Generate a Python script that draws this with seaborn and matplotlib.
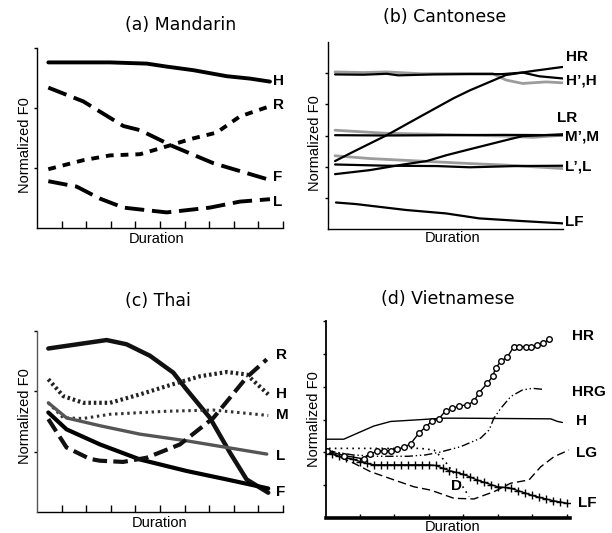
import matplotlib
matplotlib.use("Agg")
import matplotlib.pyplot as plt
import seaborn as sns

# ---- (a) Mandarin ----
man_h_x = [0.46, 2.97, 4.46, 5.27, 6.36, 7.71, 8.66, 9.47]
man_h_y = [2.76, 2.76, 2.74, 2.69, 2.63, 2.53, 2.49, 2.44]
man_r_x = [0.46, 1.88, 2.97, 4.19, 5.27, 6.22, 7.30, 8.25, 9.47]
man_r_y = [0.98, 1.13, 1.21, 1.23, 1.36, 1.48, 1.59, 1.86, 2.03]
man_f_x = [0.46, 1.88, 3.51, 4.19, 5.54, 7.17, 9.47]
man_f_y = [2.34, 2.11, 1.70, 1.63, 1.36, 1.08, 0.80]
man_l_x = [0.46, 1.61, 2.56, 3.51, 5.27, 7.03, 8.25, 9.47]
man_l_y = [0.78, 0.69, 0.49, 0.34, 0.26, 0.34, 0.44, 0.48]
man_labels = ["H", "R", "F", "L"]
man_label_y = [2.45, 2.05, 0.85, 0.43]

# ---- (b) Cantonese ----
can_h_x = [0.3, 1.5, 2.5, 3.0, 4.5, 6.0, 7.43, 8.28, 8.99, 9.99]
can_h_y = [4.96, 4.95, 4.98, 4.93, 4.96, 4.97, 4.97, 5.02, 4.90, 4.83]
can_h2_x = [0.3, 1.5, 2.5, 4.0, 6.0, 7.0, 7.57, 8.28, 9.28, 9.99]
can_h2_y = [5.04, 5.02, 5.04, 4.98, 4.99, 4.99, 4.78, 4.67, 4.72, 4.69]
can_hr_x = [0.3, 1.08, 2.5, 3.91, 5.33, 6.04, 7.57, 8.71, 9.99]
can_hr_y = [2.18, 2.48, 3.01, 3.60, 4.19, 4.45, 4.94, 5.07, 5.20]
can_m_x = [0.3, 2.5, 5.0, 7.5, 9.99]
can_m_y = [3.01, 3.00, 3.01, 3.02, 3.01]
can_m2_x = [0.3, 2.5, 4.5, 7.57, 8.71, 9.99]
can_m2_y = [3.17, 3.07, 3.04, 2.98, 2.94, 3.01]
can_lr_x = [0.3, 1.79, 3.21, 4.20, 5.05, 6.04, 7.57, 8.28, 9.99]
can_lr_y = [1.76, 1.89, 2.07, 2.18, 2.37, 2.56, 2.85, 2.98, 3.04]
can_l_x = [0.3, 2.5, 4.62, 6.04, 8.0, 9.99]
can_l_y = [2.07, 2.03, 2.02, 1.98, 2.02, 2.03]
can_l2_x = [0.3, 1.79, 3.91, 6.04, 7.57, 9.99]
can_l2_y = [2.35, 2.26, 2.18, 2.10, 2.05, 1.94]
can_lf_x = [0.34, 1.19, 3.32, 5.02, 6.44, 8.14, 9.99]
can_lf_y = [0.85, 0.80, 0.61, 0.50, 0.34, 0.26, 0.18]
can_labels = ["HR", "H\u2019,H", "LR", "M\u2019,M", "L\u2019,L", "LF"]
can_label_x = [10.13, 10.13, 9.73, 10.1, 10.1, 10.1]
can_label_y = [5.52, 4.78, 3.55, 2.98, 2.00, 0.23]

# ---- (c) Thai ----
thai_top_x = [0.46, 2.83, 3.64, 4.59, 5.54, 6.08, 7.03, 7.85, 8.52, 9.40]
thai_top_y = [2.71, 2.85, 2.78, 2.59, 2.31, 2.03, 1.56, 0.98, 0.54, 0.32]
thai_h_x = [0.46, 1.07, 1.88, 2.97, 4.19, 5.54, 6.63, 7.71, 8.52, 9.40]
thai_h_y = [2.20, 1.92, 1.81, 1.81, 1.95, 2.12, 2.25, 2.32, 2.28, 1.95]
thai_m_x = [0.46, 1.07, 1.88, 2.97, 5.27, 7.17, 9.40]
thai_m_y = [1.81, 1.56, 1.55, 1.62, 1.67, 1.69, 1.60]
thai_l_x = [0.46, 1.20, 2.56, 4.19, 6.08, 7.71, 9.34]
thai_l_y = [1.81, 1.56, 1.43, 1.29, 1.18, 1.07, 0.96]
thai_f_x = [0.46, 1.20, 2.56, 4.19, 6.08, 7.71, 9.40]
thai_f_y = [1.65, 1.37, 1.12, 0.87, 0.68, 0.54, 0.39]
thai_r_x = [0.46, 1.20, 2.15, 2.56, 3.50, 4.46, 5.81, 7.17, 8.52, 9.34]
thai_r_y = [1.54, 1.07, 0.88, 0.85, 0.83, 0.90, 1.12, 1.56, 2.23, 2.53]
thai_labels = ["R", "H", "M", "L", "F"]
thai_label_y = [2.61, 1.95, 1.60, 0.92, 0.33]

# ---- (d) Vietnamese ----
vn_hr_x = [0.05, 0.55, 1.11, 1.29, 1.50, 1.70, 1.89, 2.08, 2.28, 2.47, 2.71, 2.91, 3.10,
           3.30, 3.49, 3.68, 3.88, 4.12, 4.31, 4.46, 4.70, 4.85, 4.94, 5.09, 5.28, 5.47,
           5.62, 5.81, 5.98, 6.15, 6.33, 6.49]
vn_hr_y = [2.04, 1.90, 1.80, 1.94, 2.04, 2.05, 2.04, 2.09, 2.15, 2.26, 2.58, 2.78, 2.96,
           3.03, 3.27, 3.34, 3.41, 3.45, 3.55, 3.82, 4.10, 4.31, 4.56, 4.77, 4.90, 5.22,
           5.22, 5.22, 5.22, 5.27, 5.32, 5.45]
vn_h_x = [0.0, 0.53, 0.92, 1.40, 1.89, 3.44, 3.92, 6.54, 6.74, 6.88]
vn_h_y = [2.40, 2.40, 2.58, 2.80, 2.94, 3.04, 3.04, 3.02, 2.94, 2.91]
vn_hrg_x = [0.05, 0.8, 1.5, 2.4, 2.9, 3.3, 3.92, 4.50, 4.75, 4.89, 5.09, 5.38, 5.72, 6.01, 6.30]
vn_hrg_y = [2.05, 1.92, 1.88, 1.88, 1.92, 2.00, 2.17, 2.43, 2.68, 3.04, 3.34, 3.70, 3.90, 3.95, 3.92]
vn_d_x = [0.10, 0.82, 2.76, 3.15, 3.44, 3.73, 4.02, 4.17]
vn_d_y = [2.12, 2.12, 2.12, 2.07, 1.77, 1.36, 0.90, 0.65]
vn_lg_x = [0.10, 0.82, 1.31, 1.99, 2.57, 3.05, 3.73, 4.31, 4.89, 5.38, 5.91, 6.25, 6.64, 7.07]
vn_lg_y = [2.00, 1.67, 1.41, 1.16, 0.95, 0.85, 0.60, 0.58, 0.80, 1.06, 1.16, 1.56, 1.87, 2.07]
vn_lf_x = [0.0, 0.2, 0.4, 0.6, 0.8, 1.0, 1.2, 1.4, 1.6, 1.8, 2.0, 2.2, 2.4, 2.6, 2.8, 3.0,
           3.2, 3.4, 3.6, 3.8, 4.0, 4.2, 4.4, 4.6, 4.8, 5.0, 5.2, 5.4, 5.6, 5.8, 6.0, 6.2,
           6.4, 6.6, 6.8, 7.0]
vn_lf_y = [2.00, 1.95, 1.88, 1.84, 1.79, 1.72, 1.66, 1.62, 1.62, 1.62, 1.62, 1.62, 1.62,
           1.62, 1.62, 1.62, 1.60, 1.52, 1.44, 1.39, 1.33, 1.25, 1.16, 1.09, 1.02, 0.95,
           0.93, 0.90, 0.83, 0.76, 0.69, 0.63, 0.58, 0.53, 0.49, 0.45]
vn_labels = ["HR", "HRG", "H", "LG", "LF"]
vn_label_x = [7.15, 7.15, 7.27, 7.27, 7.32]
vn_label_y = [5.53, 3.84, 2.96, 1.99, 0.45]

titles = ["(a) Mandarin", "(b) Cantonese", "(c) Thai", "(d) Vietnamese"]

sns.set_style("white")
plt.rcParams["font.family"] = ["Liberation Sans", "DejaVu Sans"]
plt.rcParams["text.color"] = "black"

W, H = 612, 533
fig = plt.figure(figsize=(6.12, 5.33), dpi=100)


def box(l, t, r, b):
    return [l / W, 1 - b / H, (r - l) / W, (b - t) / H]


def ftext(px, py, s, **kw):
    fig.text(px / W, 1 - py / H, s, ha="center", va="center", **kw)


def line(ax, x, y, **kw):
    sns.lineplot(x=x, y=y, ax=ax, sort=False, estimator=None, **kw)


def style_axes(ax, xlim, ylim, xticks, yticks, bottom_lw=1.0, left_color="black", left_lw=1.0):
    ax.set_xlim(*xlim)
    ax.set_ylim(*ylim)
    ax.set_xticks(xticks)
    ax.set_yticks(yticks)
    ax.set_xticklabels([])
    ax.set_yticklabels([])
    for s in ["top", "right"]:
        ax.spines[s].set_visible(False)
    ax.spines["bottom"].set_linewidth(bottom_lw)
    ax.spines["bottom"].set_color("black")
    ax.spines["left"].set_visible(True)
    ax.spines["left"].set_linewidth(left_lw)
    ax.spines["left"].set_color(left_color)
    ax.spines["left"].set_zorder(5)
    ax.tick_params(axis="x", bottom=True, direction="in", length=5, width=1, color="black")
    ax.tick_params(axis="y", left=True, direction="out", length=2.5, width=1, color="black")


lab_kw = dict(fontsize=11, fontweight="bold", va="center", ha="left", clip_on=False)

# (a)
ax_a = fig.add_axes(box(37, 48, 283, 228))
style_axes(ax_a, (0, 10), (0, 3), range(1, 11), [1, 2, 3])
line(ax_a, man_h_x, man_h_y, color="black", lw=2.8)
line(ax_a, man_r_x, man_r_y, color="black", lw=2.8, linestyle=(0, (2, 1.8)))
line(ax_a, man_f_x, man_f_y, color="black", lw=2.8, linestyle=(0, (5, 2)))
line(ax_a, man_l_x, man_l_y, color="black", lw=2.8, linestyle=(0, (5, 2)))
for s, yv in zip(man_labels, man_label_y):
    ax_a.text(9.6, yv, s, **lab_kw)

# (b)
ax_b = fig.add_axes(box(328, 42, 563, 229))
style_axes(ax_b, (0, 10), (0, 6), [], [1, 2, 3, 4, 5])
gray = "#9c9c9c"
line(ax_b, can_h2_x, can_h2_y, color=gray, lw=2.0)
line(ax_b, can_m2_x, can_m2_y, color=gray, lw=2.0)
line(ax_b, can_l2_x, can_l2_y, color=gray, lw=2.0)
line(ax_b, can_h_x, can_h_y, color="black", lw=1.6)
line(ax_b, can_hr_x, can_hr_y, color="black", lw=1.6)
line(ax_b, can_m_x, can_m_y, color="black", lw=1.6)
line(ax_b, can_lr_x, can_lr_y, color="black", lw=1.6)
line(ax_b, can_l_x, can_l_y, color="black", lw=1.6)
line(ax_b, can_lf_x, can_lf_y, color="black", lw=1.6)
for s, xv, yv in zip(can_labels, can_label_x, can_label_y):
    ax_b.text(xv, yv, s, **lab_kw)

# (c)
ax_c = fig.add_axes(box(37, 331, 283, 512))
style_axes(ax_c, (0, 10), (0, 3), range(1, 11), [1, 2, 3], left_color="#555555")
line(ax_c, thai_top_x, thai_top_y, color="#111111", lw=3.2)
line(ax_c, thai_h_x, thai_h_y, color="#222222", lw=3.0, linestyle=(0, (0.6, 0.7)))
line(ax_c, thai_m_x, thai_m_y, color="#333333", lw=2.2, linestyle=(0, (0.8, 1.2)))
line(ax_c, thai_l_x, thai_l_y, color="#555555", lw=2.4)
line(ax_c, thai_f_x, thai_f_y, color="black", lw=3.0)
line(ax_c, thai_r_x, thai_r_y, color="#111111", lw=3.0, linestyle=(0, (3.5, 1.5)))
for s, yv in zip(thai_labels, thai_label_y):
    ax_c.text(9.72, yv, s, **lab_kw)

# (d)
ax_d = fig.add_axes(box(325.5, 321, 570, 518))
style_axes(ax_d, (0, 7.1), (0, 6), range(1, 8), [1, 2, 3, 4, 5, 6], bottom_lw=2.6,
           left_lw=1.3)
ax_d.tick_params(axis="x", length=3)
line(ax_d, vn_h_x, vn_h_y, color="black", lw=1.0)
line(ax_d, vn_hrg_x, vn_hrg_y, color="black", lw=1.0, linestyle=(0, (6, 2, 1, 2, 1, 2)))
line(ax_d, vn_d_x, vn_d_y, color="black", lw=1.2, linestyle=(0, (1, 2.5)))
line(ax_d, vn_lg_x, vn_lg_y, color="black", lw=1.0, linestyle=(0, (6, 3)))
line(ax_d, vn_lf_x, vn_lf_y, color="black", lw=1.0, marker="+", markersize=6,
     markeredgecolor="black", markeredgewidth=1.0)
line(ax_d, vn_hr_x, vn_hr_y, color="black", lw=1.0, marker="o", markersize=4,
     markerfacecolor="white", markeredgecolor="black", markeredgewidth=1.0)
for s, xv, yv in zip(vn_labels, vn_label_x, vn_label_y):
    ax_d.text(xv, yv, s, **lab_kw)
ax_d.text(3.81, 0.98, "D", fontsize=11, fontweight="bold", ha="center", va="center")

# titles and axis labels
title_kw = dict(fontsize=12.5, family="DejaVu Sans")
ftext(181, 25, titles[0], **title_kw)
ftext(445, 17, titles[1], **title_kw)
ftext(158, 301, titles[2], **title_kw)
ftext(448, 299, titles[3], **title_kw)

ax_kw = dict(fontsize=10.5)
ftext(25, 145, "Normalized F0", rotation=90, **ax_kw)
ftext(315, 143, "Normalized F0", rotation=90, **ax_kw)
ftext(25, 416, "Normalized F0", rotation=90, **ax_kw)
ftext(314, 419, "Normalized F0", rotation=90, **ax_kw)
ftext(157, 239, "Duration", **ax_kw)
ftext(453, 238, "Duration", **ax_kw)
ftext(160, 523, "Duration", **ax_kw)
ftext(453, 527, "Duration", **ax_kw)

fig.savefig("out.png", dpi=100, facecolor="white")
